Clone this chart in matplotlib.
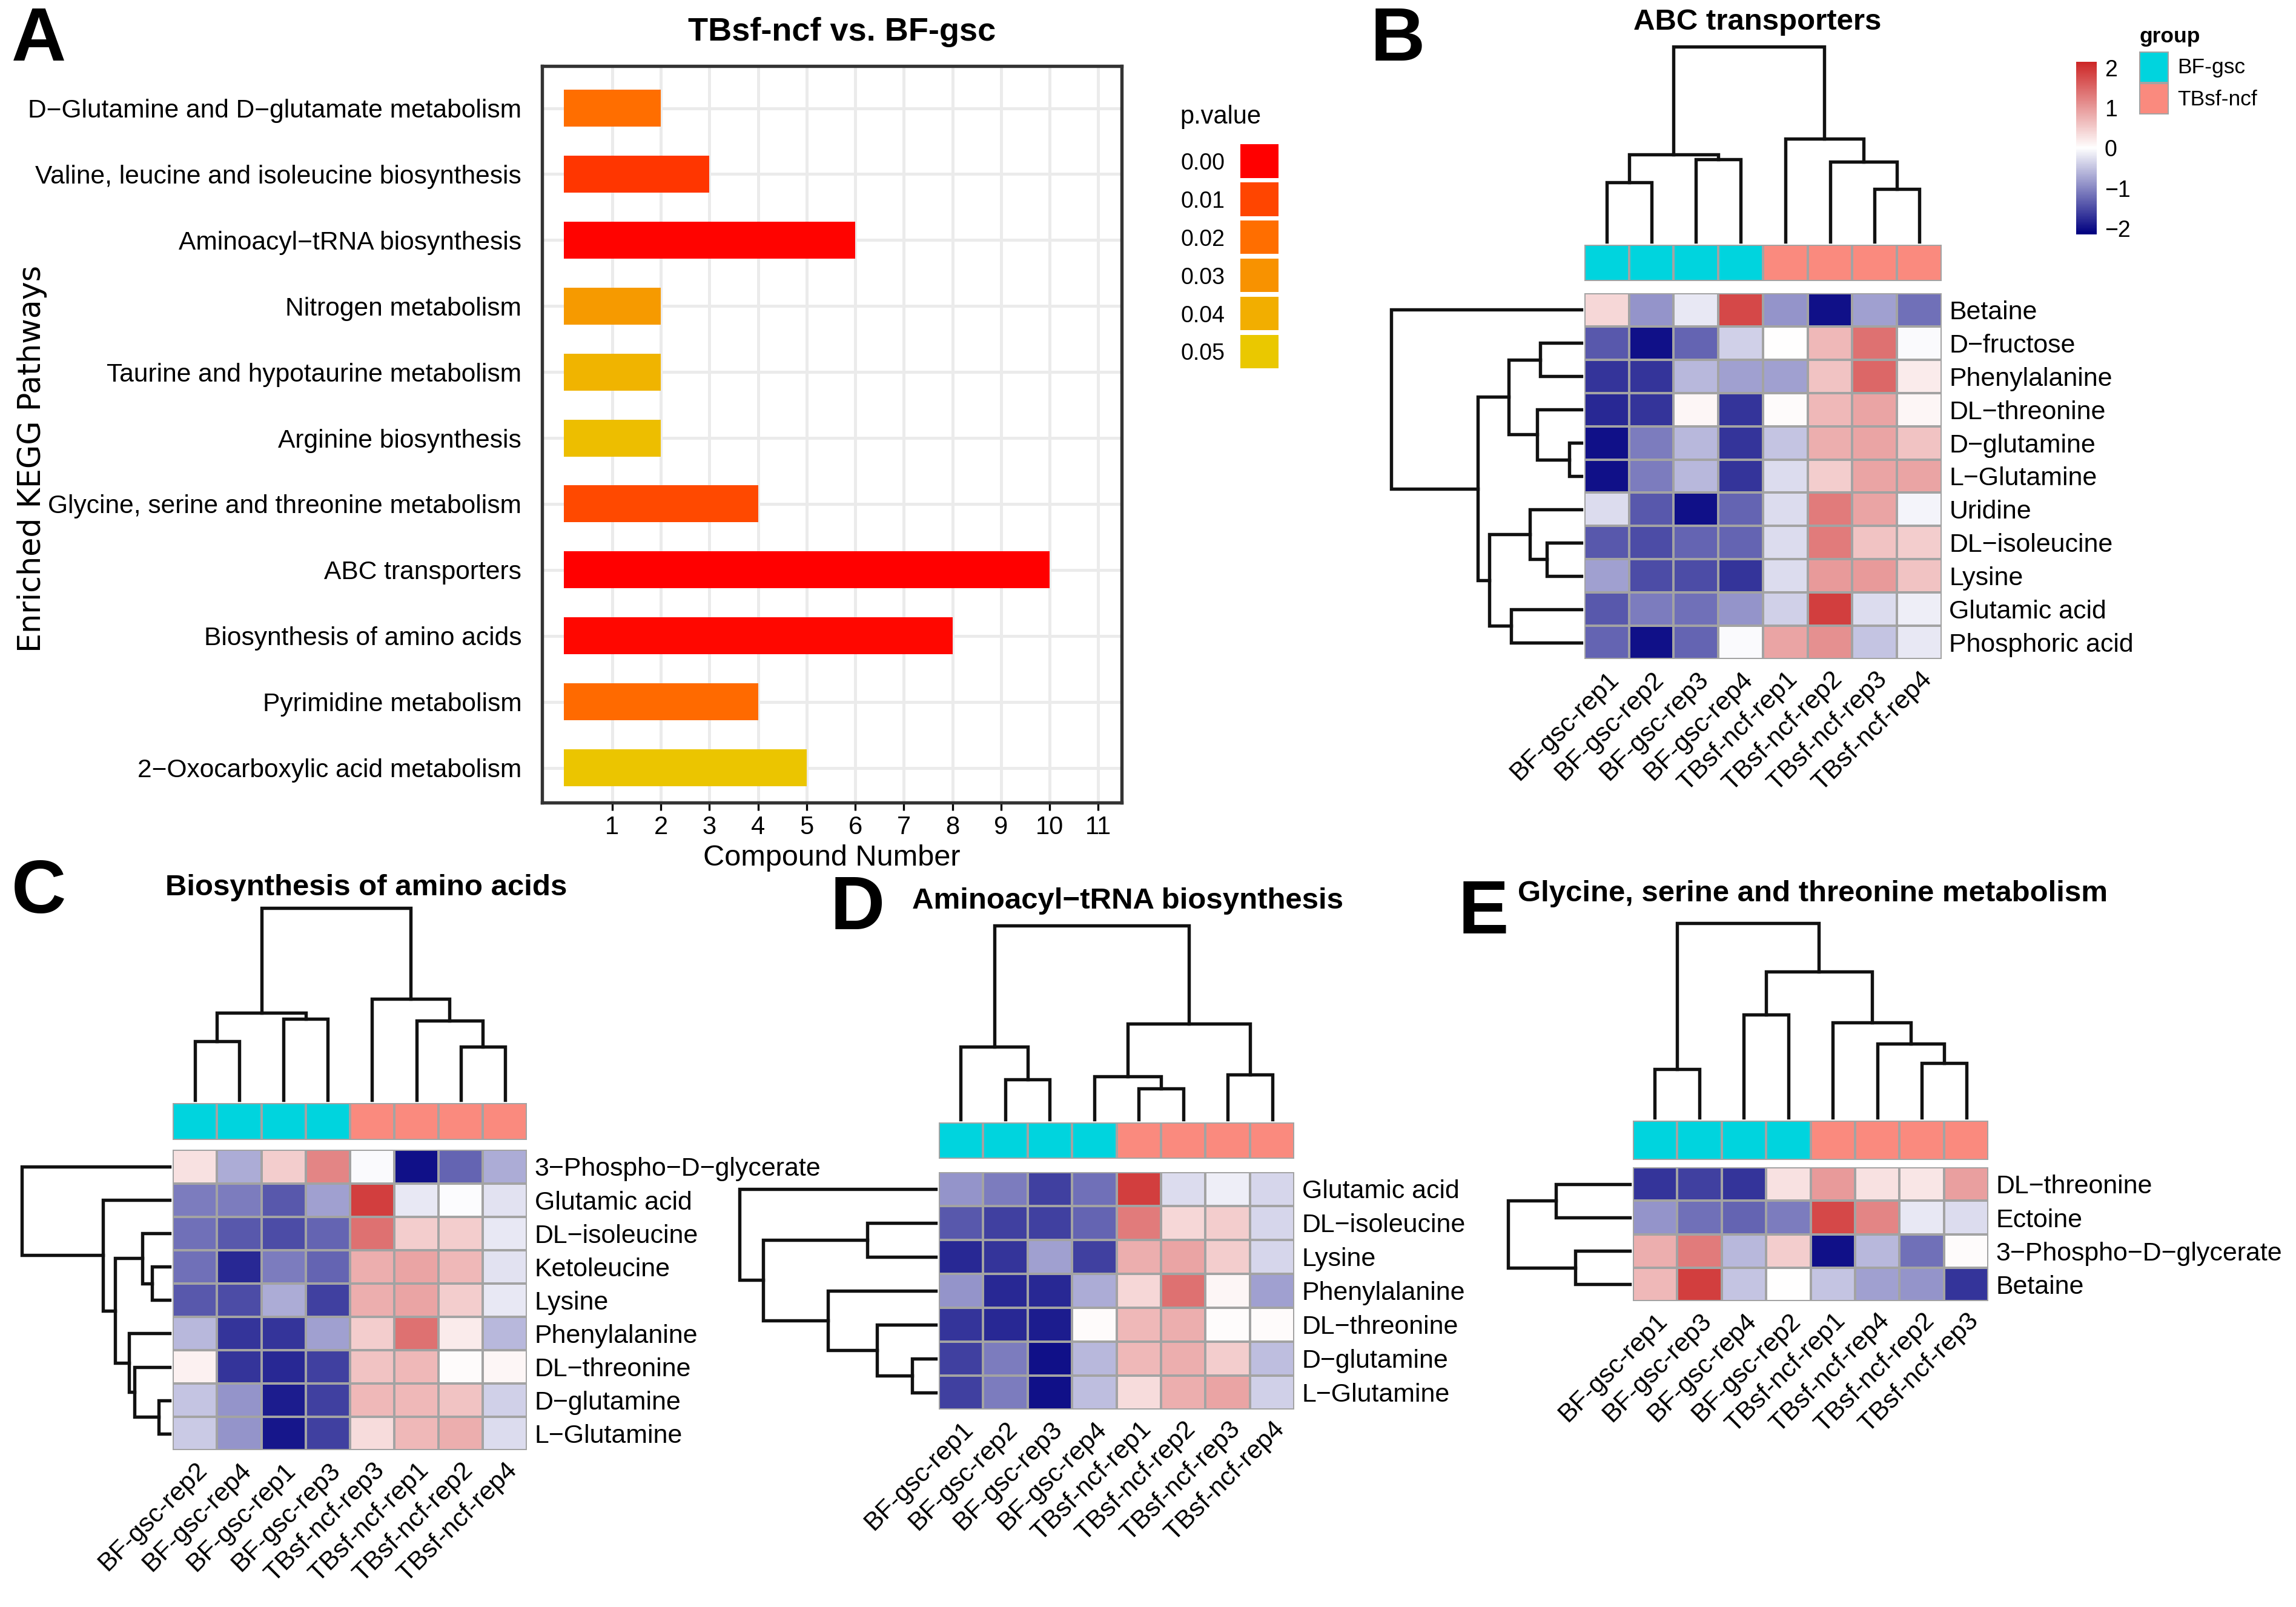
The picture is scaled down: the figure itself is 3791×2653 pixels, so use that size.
import numpy as np
import matplotlib
matplotlib.use('Agg')
import matplotlib.pyplot as plt
from matplotlib.colors import LinearSegmentedColormap, ListedColormap

plt.rcParams['font.family'] = ['Liberation Sans', 'DejaVu Sans']

M = '\u2212'

## data ##

# panel A: enriched KEGG pathways, listed top to bottom
pathways = ['D' + M + 'Glutamine and D' + M + 'glutamate metabolism',
            'Valine, leucine and isoleucine biosynthesis',
            'Aminoacyl' + M + 'tRNA biosynthesis',
            'Nitrogen metabolism',
            'Taurine and hypotaurine metabolism',
            'Arginine biosynthesis',
            'Glycine, serine and threonine metabolism',
            'ABC transporters',
            'Biosynthesis of amino acids',
            'Pyrimidine metabolism',
            '2' + M + 'Oxocarboxylic acid metabolism']
compound_number = [2, 3, 6, 2, 2, 2, 4, 10, 8, 4, 5]
p_value = [0.020, 0.008, 0.0005, 0.033, 0.042, 0.046, 0.011, 0.0001, 0.001, 0.019, 0.049]
p_ticks = [0.00, 0.01, 0.02, 0.03, 0.04, 0.05]

# panel B: ABC transporters
b_cols = ['BF-gsc-rep1', 'BF-gsc-rep2', 'BF-gsc-rep3', 'BF-gsc-rep4',
          'TBsf-ncf-rep1', 'TBsf-ncf-rep2', 'TBsf-ncf-rep3', 'TBsf-ncf-rep4']
b_rows = ['Betaine', 'D' + M + 'fructose', 'Phenylalanine', 'DL' + M + 'threonine',
          'D' + M + 'glutamine', 'L' + M + 'Glutamine', 'Uridine', 'DL' + M + 'isoleucine',
          'Lysine', 'Glutamic acid', 'Phosphoric acid']
b_values = [
    [0.4, -0.9, -0.2, 1.8, -0.9, -2.0, -0.8, -1.2],
    [-1.4, -2.0, -1.3, -0.4, 0.0, 0.7, 1.4, -0.05],
    [-1.7, -1.7, -0.6, -0.8, -0.8, 0.6, 1.5, 0.2],
    [-1.8, -1.7, 0.1, -1.7, 0.05, 0.7, 0.9, 0.1],
    [-2.0, -1.1, -0.6, -1.7, -0.5, 0.8, 0.9, 0.6],
    [-2.0, -1.1, -0.6, -1.7, -0.3, 0.5, 0.9, 0.9],
    [-0.3, -1.4, -2.0, -1.3, -0.3, 1.3, 0.9, -0.1],
    [-1.4, -1.5, -1.3, -1.3, -0.3, 1.3, 0.6, 0.5],
    [-0.8, -1.5, -1.5, -1.7, -0.3, 1.0, 1.0, 0.6],
    [-1.4, -1.1, -1.2, -0.9, -0.4, 1.9, -0.3, -0.15],
    [-1.3, -2.0, -1.3, -0.05, 0.9, 1.1, -0.5, -0.2],
]
# merges: (left, right, height); ids >= n are earlier merges
b_col_tree = [(0, 1, 0.305), (2, 3, 0.423), (8, 9, 0.449), (6, 7, 0.272),
              (5, 11, 0.41), (4, 12, 0.528), (10, 13, 1.0)]
b_row_tree = [(4, 5, 0.063), (1, 2, 0.217), (3, 11, 0.233), (12, 13, 0.383),
              (7, 8, 0.182), (6, 15, 0.272), (9, 10, 0.37), (16, 17, 0.484),
              (14, 18, 0.543), (0, 19, 1.0)]

# panel C: Biosynthesis of amino acids
c_cols = ['BF-gsc-rep2', 'BF-gsc-rep4', 'BF-gsc-rep1', 'BF-gsc-rep3',
          'TBsf-ncf-rep3', 'TBsf-ncf-rep1', 'TBsf-ncf-rep2', 'TBsf-ncf-rep4']
c_rows = ['3' + M + 'Phospho' + M + 'D' + M + 'glycerate', 'Glutamic acid', 'DL' + M + 'isoleucine',
          'Ketoleucine', 'Lysine', 'Phenylalanine', 'DL' + M + 'threonine',
          'D' + M + 'glutamine', 'L' + M + 'Glutamine']
c_values = [
    [0.3, -0.7, 0.5, 1.2, -0.05, -2.0, -1.3, -0.7],
    [-1.1, -1.1, -1.4, -0.8, 1.9, -0.2, -0.02, -0.25],
    [-1.2, -1.4, -1.5, -1.3, 1.4, 0.5, 0.5, -0.2],
    [-1.2, -1.8, -1.1, -1.3, 0.8, 0.9, 0.7, -0.25],
    [-1.4, -1.5, -0.7, -1.6, 0.8, 0.9, 0.5, -0.2],
    [-0.6, -1.7, -1.7, -0.8, 0.5, 1.4, 0.2, -0.6],
    [0.15, -1.7, -1.8, -1.6, 0.6, 0.7, 0.05, 0.1],
    [-0.5, -0.9, -1.9, -1.6, 0.7, 0.7, 0.6, -0.4],
    [-0.45, -0.9, -1.95, -1.6, 0.35, 0.7, 0.8, -0.3],
]
c_col_tree = [(0, 1, 0.308), (2, 3, 0.424), (8, 9, 0.455), (6, 7, 0.277),
              (5, 11, 0.413), (4, 12, 0.528), (10, 13, 1.0)]
c_row_tree = [(3, 4, 0.121), (2, 9, 0.188), (7, 8, 0.074), (6, 11, 0.24),
              (5, 12, 0.278), (10, 13, 0.372), (1, 14, 0.451), (0, 15, 1.0)]

# panel D: Aminoacyl-tRNA biosynthesis
d_cols = b_cols
d_rows = ['Glutamic acid', 'DL' + M + 'isoleucine', 'Lysine', 'Phenylalanine',
          'DL' + M + 'threonine', 'D' + M + 'glutamine', 'L' + M + 'Glutamine']
d_values = [
    [-0.9, -1.1, -1.6, -1.2, 1.9, -0.3, -0.15, -0.35],
    [-1.4, -1.6, -1.6, -1.3, 1.3, 0.4, 0.5, -0.35],
    [-1.8, -1.7, -0.8, -1.6, 0.8, 0.9, 0.5, -0.35],
    [-0.9, -1.8, -1.8, -0.7, 0.4, 1.4, 0.1, -0.8],
    [-1.7, -1.8, -1.9, 0.05, 0.7, 0.8, 0.03, 0.05],
    [-1.6, -1.1, -2.0, -0.6, 0.7, 0.8, 0.5, -0.55],
    [-1.6, -1.1, -2.0, -0.55, 0.35, 0.8, 0.9, -0.4],
]
d_col_tree = [(1, 2, 0.205), (0, 8, 0.374), (4, 5, 0.158), (3, 10, 0.221),
              (6, 7, 0.232), (11, 12, 0.495), (9, 13, 1.0)]
d_row_tree = [(5, 6, 0.12), (4, 7, 0.3), (3, 8, 0.55), (1, 2, 0.35),
              (10, 9, 0.88), (0, 11, 1.0)]

# panel E: Glycine, serine and threonine metabolism
e_cols = ['BF-gsc-rep1', 'BF-gsc-rep3', 'BF-gsc-rep4', 'BF-gsc-rep2',
          'TBsf-ncf-rep1', 'TBsf-ncf-rep4', 'TBsf-ncf-rep2', 'TBsf-ncf-rep3']
e_rows = ['DL' + M + 'threonine', 'Ectoine', '3' + M + 'Phospho' + M + 'D' + M + 'glycerate', 'Betaine']
e_values = [
    [-1.7, -1.6, -1.7, 0.3, 1.0, 0.3, 0.25, 0.95],
    [-0.9, -1.2, -1.3, -1.1, 1.8, 1.2, -0.2, -0.3],
    [0.8, 1.3, -0.6, 0.5, -2.0, -0.6, -1.2, 0.05],
    [0.7, 1.9, -0.5, 0.0, -0.5, -0.8, -0.9, -1.7],
]
e_col_tree = [(0, 1, 0.25), (2, 3, 0.53), (6, 7, 0.28), (5, 10, 0.38),
              (4, 11, 0.49), (9, 12, 0.75), (8, 13, 1.0)]
e_row_tree = [(0, 1, 0.61), (2, 3, 0.45), (4, 5, 1.0)]

groups = [0, 0, 0, 0, 1, 1, 1, 1]
group_names = ['BF-gsc', 'TBsf-ncf']
group_colors = ['#00D4DE', '#FA8A7E']

## styles ##

heat_cmap = LinearSegmentedColormap.from_list('heat', ['#000080', '#FFFFFF', '#CD2626'])
p_cmap = LinearSegmentedColormap.from_list('pv', ['#FF0000', '#FF4500', '#FF6E00',
                                                  '#F89200', '#F2AE00', '#EAC800'])
border = '#A3A3A3'
VMAX = 2.15

fig = plt.figure(figsize=(3791 / 300, 2653 / 300), dpi=300)

# layout is measured on a 1568 x 1097 grid
W_D, H_D = 1568.0, 1097.0


def rect(x0, y0, x1, y1):
    return [x0 / W_D, 1 - y1 / H_D, (x1 - x0) / W_D, (y1 - y0) / H_D]


def ftext(x, y, s, **kw):
    fig.text(x / W_D, 1 - y / H_D, s, **kw)


def draw_tree(ax, merges, n, orient):
    pos = {i: i + 0.5 for i in range(n)}
    hgt = {i: 0.0 for i in range(n)}
    for k, (a, b, h) in enumerate(merges):
        pa, pb, ha, hb = pos[a], pos[b], hgt[a], hgt[b]
        if orient == 'top':
            ax.plot([pa, pa, pb, pb], [ha, h, h, hb], color='#111111', lw=1.3,
                    solid_joinstyle='miter', clip_on=False)
        else:
            ax.plot([ha, h, h, hb], [pa, pa, pb, pb], color='#111111', lw=1.3,
                    solid_joinstyle='miter', clip_on=False)
        pos[n + k] = (pa + pb) / 2
        hgt[n + k] = h
    if orient == 'top':
        ax.set_xlim(0, n)
        ax.set_ylim(0, 1)
    else:
        ax.set_xlim(1, 0)
        ax.set_ylim(n, 0)
    ax.axis('off')


def draw_heatmap(heat_box, ann_y, cden_y, rden_x, values, rows, cols,
                 col_tree, row_tree, title, title_xy):
    x0, y0, x1, y1 = heat_box
    vals = np.array(values)
    nr, nc = vals.shape
    ax = fig.add_axes(rect(x0, y0, x1, y1))
    ax.pcolormesh(vals, cmap=heat_cmap, vmin=-VMAX, vmax=VMAX,
                  edgecolors=border, linewidth=0.9)
    ax.set_xlim(0, nc)
    ax.set_ylim(nr, 0)
    for s in ax.spines.values():
        s.set_visible(False)
    ax.yaxis.tick_right()
    ax.set_yticks(np.arange(nr) + 0.5)
    ax.set_yticklabels(rows, fontsize=10.3)
    ax.set_xticks(np.arange(nc) + 0.5)
    ax.set_xticklabels(cols, fontsize=10.3, rotation=45, ha='right', va='top',
                       rotation_mode='anchor')
    ax.tick_params(length=0, pad=3)

    ax_a = fig.add_axes(rect(x0, ann_y[0], x1, ann_y[1]))
    ax_a.pcolormesh([groups], cmap=ListedColormap(group_colors), vmin=0, vmax=1,
                    edgecolors=border, linewidth=0.9)
    ax_a.set_xlim(0, nc)
    ax_a.axis('off')

    ax_c = fig.add_axes(rect(x0, cden_y[0], x1, cden_y[1]))
    draw_tree(ax_c, col_tree, nc, 'top')
    ax_r = fig.add_axes(rect(rden_x[0], y0, rden_x[1], y1))
    draw_tree(ax_r, row_tree, nr, 'left')

    ftext(title_xy[0], title_xy[1], title, fontsize=11.8, fontweight='bold',
          ha='center', va='center')


## A. enrichment bar chart ##

ax = fig.add_axes(rect(370, 45, 766, 548))
ypos = np.arange(len(pathways))[::-1] + 1
ax.barh(ypos, compound_number, height=0.56, left=0,
        color=[p_cmap(p / 0.05) for p in p_value], zorder=3)
ax.set_xlim(-0.45, 11.48)
ax.set_ylim(0.47, 11.64)
ax.set_xticks(range(1, 12))
ax.set_yticks(ypos)
ax.set_yticklabels(pathways, fontsize=10.2)
ax.grid(True, color='#EBEBEB', lw=1.2, zorder=0)
ax.tick_params(axis='x', labelsize=10, length=3, width=0.8, pad=2)
ax.tick_params(axis='y', length=0, pad=8)
for s in ax.spines.values():
    s.set_color('#333333')
    s.set_linewidth(1.3)
ax.set_xlabel('Compound Number', fontsize=11.7, labelpad=2)
ftext(22, 313, 'Enriched KEGG Pathways', fontsize=12.2, rotation=90, ha='center',
      va='center', family='DejaVu Sans')
ftext(575, 22, 'TBsf-ncf vs. BF-gsc', fontsize=13, fontweight='bold',
      ha='center', va='center')

# p.value legend
ax_p = fig.add_axes(rect(847, 97, 873, 253))
ax_p.barh(range(len(p_ticks)), 1, height=0.88,
          color=[p_cmap(p / 0.05) for p in p_ticks])
ax_p.set_xlim(0, 1)
ax_p.set_ylim(len(p_ticks) - 0.5, -0.5)
ax_p.set_xticks([])
ax_p.set_yticks(range(len(p_ticks)))
ax_p.set_yticklabels(['%.2f' % p for p in p_ticks], fontsize=9)
ax_p.tick_params(axis='y', length=0, pad=6)
for s in ax_p.spines.values():
    s.set_visible(False)
ftext(806, 80, 'p.value', fontsize=10, ha='left', va='center')

## B-E. heatmaps ##

draw_heatmap((1082, 200, 1326, 450), (167, 192), (32, 165), (950, 1080),
             b_values, b_rows, b_cols, b_col_tree, b_row_tree,
             'ABC transporters', (1200, 15))
draw_heatmap((118, 785, 360, 990), (753, 778), (620, 751), (15, 116),
             c_values, c_rows, c_cols, c_col_tree, c_row_tree,
             'Biosynthesis of amino acids', (250, 606))
draw_heatmap((641, 800, 884, 962), (766, 791), (632, 764), (505, 639),
             d_values, d_rows, d_cols, d_col_tree, d_row_tree,
             'Aminoacyl' + M + 'tRNA biosynthesis', (770, 615))
draw_heatmap((1115, 797, 1358, 888), (765, 792), (630, 763), (1030, 1113),
             e_values, e_rows, e_cols, e_col_tree, e_row_tree,
             'Glycine, serine and threonine metabolism', (1238, 610))

# colour key for the heatmaps
ax_k = fig.add_axes(rect(1418, 42, 1432, 160))
ax_k.imshow(np.linspace(VMAX, -VMAX, 200).reshape(-1, 1), cmap=heat_cmap,
            vmin=-VMAX, vmax=VMAX, aspect='auto', extent=[0, 1, -VMAX, VMAX])
ax_k.yaxis.tick_right()
ax_k.set_yticks([2, 1, 0, -1, -2])
ax_k.set_yticklabels(['2', '1', '0', M + '1', M + '2'], fontsize=9)
ax_k.set_xticks([])
ax_k.tick_params(length=0, pad=3)
for s in ax_k.spines.values():
    s.set_visible(False)

# group legend
ax_g = fig.add_axes(rect(1461, 35, 1481, 78))
ax_g.pcolormesh([[0], [1]], cmap=ListedColormap(group_colors), vmin=0, vmax=1,
                edgecolors=border, linewidth=0.9)
ax_g.set_ylim(2, 0)
ax_g.axis('off')
ftext(1461, 25, 'group', fontsize=8.5, fontweight='bold', ha='left', va='center')
ftext(1487, 46, group_names[0], fontsize=8.5, ha='left', va='center')
ftext(1487, 68, group_names[1], fontsize=8.5, ha='left', va='center')

# panel letters
for letter, x, y in [('A', 8, 4), ('B', 936, 4), ('C', 8, 586), ('D', 567, 597),
                     ('E', 996, 600)]:
    ftext(x, y, letter, fontsize=30, fontweight='bold', ha='left', va='top')

fig.savefig('out.png', dpi=300)
